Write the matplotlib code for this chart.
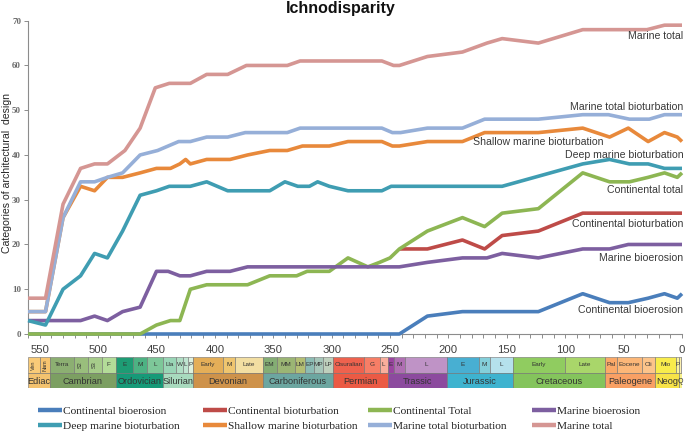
import matplotlib
matplotlib.use("Agg")
import matplotlib.pyplot as plt

# ---------------- data (ages in Ma, values = categories) ----------------
ages_cont_bioerosion = [560, 242, 218, 188, 123, 85, 62, 46, 29, 15, 4, 0]
vals_cont_bioerosion = [0, 0, 4, 5, 5, 9, 7, 7, 8, 9, 8, 9]

ages_cont_bioturbation = [242, 218, 188, 169, 154, 123, 85, 0]
vals_cont_bioturbation = [19, 19, 21, 19, 22, 23, 27, 27]

ages_cont_total = [560, 464, 450, 438, 430, 421, 407, 372, 353, 330, 321, 302, 286,
                   269, 259, 250, 242, 218, 188, 169, 154, 123, 85, 62, 45, 29, 15, 4, 0]
vals_cont_total = [0, 0, 2, 3, 3, 10, 11, 11, 13, 13, 14, 14, 17,
                   15, 16, 17, 19, 23, 26, 24, 27, 28, 36, 34, 34, 35, 36, 35, 36]

ages_marine_bioerosion = [560, 515, 503, 492, 479, 464, 450, 440, 430, 421, 407, 387, 372,
                          242, 218, 188, 167, 154, 123, 85, 62, 46, 0]
vals_marine_bioerosion = [3, 3, 4, 3, 5, 6, 14, 14, 13, 13, 14, 14, 15,
                          15, 16, 17, 17, 18, 17, 19, 19, 20, 20]

ages_deep = [560, 545, 530, 515, 503, 492, 479, 464, 450, 439, 421, 407, 389, 353, 340,
             329, 319, 312, 302, 286, 257, 249, 154, 85, 62, 45, 29, 15, 0]
vals_deep = [3, 2, 10, 13, 18, 17, 23, 31, 32, 33, 33, 34, 32, 32, 34,
             33, 33, 34, 33, 32, 32, 33, 33, 38, 39, 38, 38, 37, 37]

ages_shallow = [560, 545, 530, 515, 503, 492, 479, 464, 450, 438, 430, 425, 421, 407, 387,
                372, 353, 338, 325, 302, 286, 257, 248, 242, 218, 188, 169, 123, 85, 62,
                46, 29, 15, 4, 0]
vals_shallow = [5, 5, 26, 33, 32, 35, 35, 36, 37, 37, 38, 39, 38, 39, 39,
                40, 41, 41, 42, 42, 43, 43, 42, 42, 43, 43, 45, 45, 46, 44,
                46, 43, 45, 44, 43]

ages_marine_biot = [560, 545, 530, 515, 503, 492, 479, 464, 449, 431, 421, 407, 389, 374,
                    338, 327, 257, 248, 241, 218, 188, 169, 123, 85, 63, 45, 28, 15, 0]
vals_marine_biot = [5, 5, 26, 34, 34, 35, 36, 40, 41, 43, 43, 44, 44, 45,
                    45, 46, 46, 45, 45, 46, 46, 48, 48, 49, 49, 48, 48, 49, 49]

ages_marine_total = [560, 545, 530, 515, 503, 492, 477, 464, 451, 439, 421, 407, 389, 373,
                     338, 327, 257, 247, 242, 218, 188, 167, 154, 123, 85, 30, 15, 0]
vals_marine_total = [8, 8, 29, 37, 38, 38, 41, 46, 55, 56, 56, 58, 58, 60,
                     60, 61, 61, 60, 60, 62, 63, 65, 66, 65, 68, 68, 69, 69]

series_names = ["Continental bioerosion", "Continental bioturbation", "Continental Total",
                "Marine bioerosion", "Deep marine bioturbation", "Shallow marine bioturbation",
                "Marine total bioturbation", "Marine total"]
series_colors = ["#4A7EBB", "#BE4B48", "#8DB653", "#7D5FA0", "#3F9DB2", "#E8893B",
                 "#96AFD8", "#D59693"]

# right-hand labels: (text, age, value)
label_texts = ["Marine total", "Marine total bioturbation", "Shallow marine bioturbation",
               "Deep marine bioturbation", "Continental total", "Continental bioturbation",
               "Marine bioerosion", "Continental bioerosion"]
label_ages = [-1, -1, 67, -1, -1, -1, -1, -1]
label_vals = [65.8, 50.0, 42.2, 39.4, 31.5, 23.9, 16.3, 4.7]

# geological time scale
epoch_names = ["Ven", "Nam", "Terra", "S2", "S3", "F", "E", "M", "L", "Lla", "W", "L", "P",
               "Early", "M", "Late", "EM", "MM", "LM", "EP", "MP", "LP", "Cisuralian", "G", "L",
               "E", "M", "L", "E", "M", "L", "Early", "Late", "Pal", "Eocene", "Oli", "Mio",
               "P", "P", "H"]
epoch_start = [560, 550, 541, 521, 509, 497, 485, 470, 458, 444, 433, 427, 423,
               419, 393, 383, 359, 347, 331, 323, 315, 307, 299, 272, 259,
               252, 247, 237, 201, 174, 164, 145, 100.5, 66, 56, 34, 23,
               5.3, 2.6, 0.6]
epoch_end = [550, 541, 521, 509, 497, 485, 470, 458, 444, 433, 427, 423, 419,
             393, 383, 359, 347, 331, 323, 315, 307, 299, 272, 259, 252,
             247, 237, 201, 174, 164, 145, 100.5, 66, 56, 34, 23, 5.3,
             2.6, 0.6, 0]
epoch_colors = ["#F9CB78", "#F7C46F", "#8CAF72", "#99BE7C", "#A6CC8A", "#B3DC98",
                "#1E9C74", "#4DB283", "#7DC799", "#99D5B6", "#B0DEC4", "#BFE4D0", "#DDF0DF",
                "#E4AE58", "#EFC56F", "#F2DEA2", "#84AD74", "#9BB574", "#B3BE74",
                "#8CBCB4", "#A6C6B9", "#BECFBC", "#EE624E", "#F77E66", "#F9AE9C",
                "#9A44A0", "#AF6EB2", "#BF93C6", "#48AFD2", "#84CFDA", "#B5E1EC",
                "#90CC60", "#A9D66A", "#FBA968", "#FCB778", "#FDC48A", "#F8EC4C",
                "#FCF59A", "#FDF2B2", "#FEF4E0"]
epoch_rot = ["Ven", "Nam", "S2", "S3"]

period_names = ["Ediac", "Cambrian", "Ordovician", "Silurian", "Devonian", "Carboniferous",
                "Permian", "Trassic", "Jurassic", "Cretaceous", "Paleogene", "Neog", "Q"]
period_start = [560, 541, 485, 444, 419, 359, 299, 252, 201, 145, 66, 23, 2.6]
period_end = [541, 485, 444, 419, 359, 299, 252, 201, 145, 66, 23, 2.6, 0]
period_colors = ["#F3C26F", "#7C9F62", "#169A78", "#A8DABE", "#CE924A", "#6CA6A0",
                 "#EB5A44", "#8C4A9E", "#3EB3CF", "#84C45C", "#F9A064", "#F8E348", "#F6F08A"]

# ---------------- figure ----------------
W, H = 685, 433
fig = plt.figure(figsize=(W / 100, H / 100), dpi=100)

def fx(px):
    return px / W

def fy(py):
    return 1 - py / H

ax = fig.add_axes([fx(28), fy(334), fx(682) - fx(28), fy(20.7) - fy(334)])
ax.set_xlim(560, 0)
ax.set_ylim(0, 70)

all_ages = [ages_cont_bioerosion, ages_cont_bioturbation, ages_cont_total,
            ages_marine_bioerosion, ages_deep, ages_shallow, ages_marine_biot,
            ages_marine_total]
all_vals = [vals_cont_bioerosion, vals_cont_bioturbation, vals_cont_total,
            vals_marine_bioerosion, vals_deep, vals_shallow, vals_marine_biot,
            vals_marine_total]

handles = []
for a, v, c, n in zip(all_ages, all_vals, series_colors, series_names):
    ln, = ax.plot(a, v, color=c, lw=2.6, solid_joinstyle="round", solid_capstyle="butt",
                  clip_on=False, label=n, zorder=3)
    handles.append(ln)

for t, a, v in zip(label_texts, label_ages, label_vals):
    ax.text(a, v, t, ha="right", va="baseline", fontsize=7.6, color="#3A3A3A",
            family="Liberation Sans", clip_on=False, zorder=5)

for s in ["top", "right"]:
    ax.spines[s].set_visible(False)
for s in ["left", "bottom"]:
    ax.spines[s].set_color("#8C8C8C")
    ax.spines[s].set_linewidth(0.8)

ax.set_xticks(list(range(550, -1, -50)))
ax.set_xticks(list(range(560, -1, -10)), minor=True)
ax.set_yticks(list(range(0, 71, 10)))
ax.tick_params(axis="x", which="both", direction="out", length=3, color="#8C8C8C",
               width=0.7, pad=5)
ax.tick_params(axis="y", direction="out", length=3, color="#8C8C8C", width=0.7, pad=2)
for lab in ax.get_xticklabels():
    lab.set_family("Liberation Sans")
    lab.set_fontsize(8.2)
    lab.set_color("#404040")
for lab in ax.get_yticklabels():
    lab.set_family("Liberation Serif")
    lab.set_fontsize(6.5)
    lab.set_fontweight("bold")
    lab.set_color("#6A6A6A")

fig.text(fx(341), fy(12.5), "Ichnodisparity", ha="center", va="baseline",
         fontsize=11.5, fontweight="bold", family="Liberation Sans", color="#111111")
fig.text(fx(7), fy(173), "Categories of architectural  design", rotation=90,
         ha="center", va="center", fontsize=7.6, family="Liberation Sans", color="#262626")

# ---------------- time scale ----------------
tax = fig.add_axes([fx(28), fy(388), fx(682) - fx(28), fy(357) - fy(388)])
tax.set_xlim(560, 0)
tax.set_ylim(0, 2)
tax.axis("off")

for n, s, e, c in zip(epoch_names, epoch_start, epoch_end, epoch_colors):
    tax.barh(1.5, s - e, left=e, height=1, color=c, edgecolor="#707070", linewidth=0.4)
    if s - e >= 2.5:
        rot = 90 if n in epoch_rot else 0
        tax.text((s + e) / 2, 1.5, n, ha="center", va="center", fontsize=4.6 if rot == 0 else 4,
                 rotation=rot, family="Liberation Sans", color="#333333")

for n, s, e, c in zip(period_names, period_start, period_end, period_colors):
    tax.barh(0.5, s - e, left=e, height=1, color=c, edgecolor="#707070", linewidth=0.4)
    tax.text((s + e) / 2, 0.45, n, ha="center", va="center",
             fontsize=6.6 if n != "Q" else 5, family="Liberation Sans", color="#333333")

# ---------------- legend (four columns, two rows) ----------------
col_x = [38, 203, 368, 532]
for i, x in enumerate(col_x):
    hs = [handles[i], handles[i + 4]]
    leg = fig.legend(hs, [series_names[i], series_names[i + 4]], loc="center left",
                     bbox_to_anchor=(fx(x), fy(418.7)), frameon=False, borderpad=0,
                     borderaxespad=0, handlelength=2.1, handletextpad=0.1,
                     labelspacing=0.45, prop={"family": "Liberation Serif", "size": 8.2})
    for lh in leg.get_lines():
        lh.set_linewidth(3.2)
    for t in leg.get_texts():
        t.set_color("#222222")

fig.savefig("out.png", dpi=100)
